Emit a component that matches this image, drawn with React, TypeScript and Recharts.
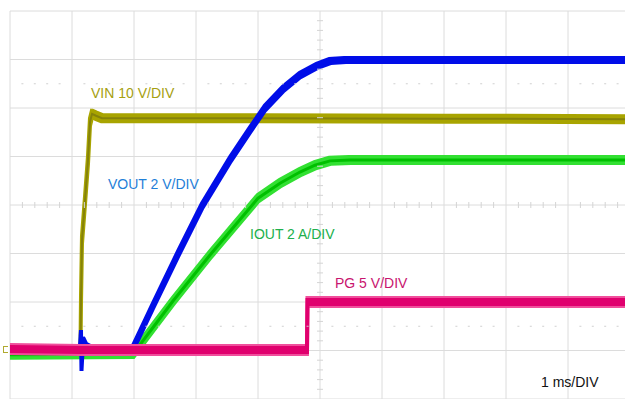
import { ComposedChart, Line, Scatter, XAxis, YAxis, CartesianGrid } from "recharts";

// time in ms from the left screen edge (1 ms/DIV), level in divisions from the centre line
const vinT = [0, 1.137, 1.145, 1.161, 1.21, 1.258, 1.29, 1.323, 1.387, 1.484, 4.0, 7.0, 10];
const vinV = [-2.99, -2.99, -1.96, -0.72, 0.1, 0.93, 1.71, 1.88, 1.84, 1.79, 1.79, 1.78, 1.77];

const voutT = [0, 1.129, 1.145, 1.153, 1.177, 1.226, 1.29, 1.984, 2.306, 2.71, 3.097, 3.548, 3.871, 4.113, 4.403, 4.677, 4.952, 5.161, 5.403, 10];
const voutV = [-2.95, -2.95, -2.64, -3.36, -2.78, -2.91, -2.95, -2.95, -2.08, -1.01, -0.02, 0.93, 1.55, 2.0, 2.39, 2.68, 2.87, 2.97, 2.99, 2.99];

const ioutT = [0, 1.984, 2.629, 3.226, 4.0, 4.355, 4.677, 4.919, 5.161, 5.484, 10];
const ioutV = [-3.09, -3.07, -1.98, -1.03, 0.14, 0.45, 0.68, 0.82, 0.91, 0.93, 0.93];

const pgT = [0, 1.14, 4.79, 4.798, 10];
const pgV = [-2.97, -2.99, -2.99, -2.0, -2.0];

const xTicks = [0, 1, 2, 3, 4, 5, 6, 7, 8, 9, 10];
const yTicks = [-4, -3, -2, -1, 0, 1, 2, 3, 4];

const pts = (t: number[], v: number[]) => t.map((x, i) => ({ t: x, v: v[i] }));

// minor graticule marks (5 per division)
const minorT = Array.from({ length: 51 }, (_, i) => i * 0.2).filter((t) => Math.abs(t - Math.round(t)) > 0.01);
const minorV = Array.from({ length: 41 }, (_, i) => -4 + i * 0.2).filter((v) => Math.abs(v - Math.round(v)) > 0.01);
const hTicks = minorT.map((t) => ({ t, v: 0 }));
const vTicks = minorV.map((v) => ({ t: 5, v }));
const dotRows = [...minorT.map((t) => ({ t, v: 2.5 })), ...minorT.map((t) => ({ t, v: -2.5 }))];

const labelStyle: React.CSSProperties = {
  position: "absolute",
  fontFamily: "'Liberation Sans', Arial, sans-serif",
  fontSize: 14,
  lineHeight: "14px",
  whiteSpace: "nowrap",
};

// vertical-only dilation, so traces look like noisy scope bands
const band = (id: string, ry: number, rx = 0.6) => (
  <filter id={id} x="0" y="0" width="700" height="450" filterUnits="userSpaceOnUse">
    <feMorphology operator="dilate" radius={`${rx} ${ry}`} />
  </filter>
);

export default function App() {
  return (
    <div style={{ position: "absolute", left: 0, top: 0, width: 625, height: 399, overflow: "hidden", background: "#fff" }}>
      <ComposedChart width={630} height={400} margin={{ top: 11, right: 0, left: 10, bottom: 1 }}>
        <defs>
          {band("bandVin", 3.5)}
          {band("bandVout", 3)}
          {band("bandIout", 4)}
          {band("bandPg", 4.5)}
          {band("bandPgIn", 2.5)}
        </defs>
        <CartesianGrid stroke="#dcdcdc" strokeWidth={1} />
        <XAxis type="number" dataKey="t" domain={[0, 10]} ticks={xTicks} hide allowDataOverflow />
        <YAxis type="number" dataKey="v" domain={[-4, 4]} ticks={yTicks} hide allowDataOverflow />
        <Scatter
          data={hTicks}
          isAnimationActive={false}
          shape={(p: any) => <line x1={p.cx} y1={p.cy - 3} x2={p.cx} y2={p.cy + 3} stroke="#d4d4d4" />}
        />
        <Scatter
          data={vTicks}
          isAnimationActive={false}
          shape={(p: any) => <line x1={p.cx - 3} y1={p.cy} x2={p.cx + 3} y2={p.cy} stroke="#d4d4d4" />}
        />
        <Scatter
          data={dotRows}
          isAnimationActive={false}
          shape={(p: any) => <line x1={p.cx - 1} y1={p.cy} x2={p.cx + 1} y2={p.cy} stroke="#d0d0d0" />}
        />
        <Line data={pts(vinT, vinV)} dataKey="v" type="linear" stroke="#a8a400" strokeWidth={2} dot={false} isAnimationActive={false} filter="url(#bandVin)" />
        <Line data={pts(vinT, vinV)} dataKey="v" type="linear" stroke="#85820a" strokeWidth={2} dot={false} isAnimationActive={false} />
        <Line data={pts(ioutT, ioutV)} dataKey="v" type="linear" stroke="#30e030" strokeWidth={2} dot={false} isAnimationActive={false} filter="url(#bandIout)" />
        <Line data={pts(ioutT, ioutV)} dataKey="v" type="linear" stroke="#00c000" strokeWidth={3} dot={false} isAnimationActive={false} />
        <Line data={pts(voutT, voutV)} dataKey="v" type="linear" stroke="#0010e8" strokeWidth={2} dot={false} isAnimationActive={false} filter="url(#bandVout)" />
        <Line data={pts(pgT, pgV)} dataKey="v" type="linear" stroke="#f0509c" strokeWidth={2} dot={false} isAnimationActive={false} filter="url(#bandPg)" />
        <Line data={pts(pgT, pgV)} dataKey="v" type="linear" stroke="#e0006e" strokeWidth={2} dot={false} isAnimationActive={false} filter="url(#bandPgIn)" />
      </ComposedChart>
      <div style={{ ...labelStyle, left: 91, top: 86, color: "#a6a010" }}>VIN 10 V/DIV</div>
      <div style={{ ...labelStyle, left: 108, top: 177, color: "#1f80d8" }}>VOUT 2 V/DIV</div>
      <div style={{ ...labelStyle, left: 250, top: 227, color: "#20b04c" }}>IOUT 2 A/DIV</div>
      <div style={{ ...labelStyle, left: 335, top: 276, color: "#c8146e" }}>PG 5 V/DIV</div>
      <div style={{ ...labelStyle, left: 541, top: 375, color: "#111" }}>1 ms/DIV</div>
      <div style={{ position: "absolute", left: 3, top: 346, width: 4, height: 5, border: "1px solid #b0aa30", borderRight: "none" }} />
    </div>
  );
}
